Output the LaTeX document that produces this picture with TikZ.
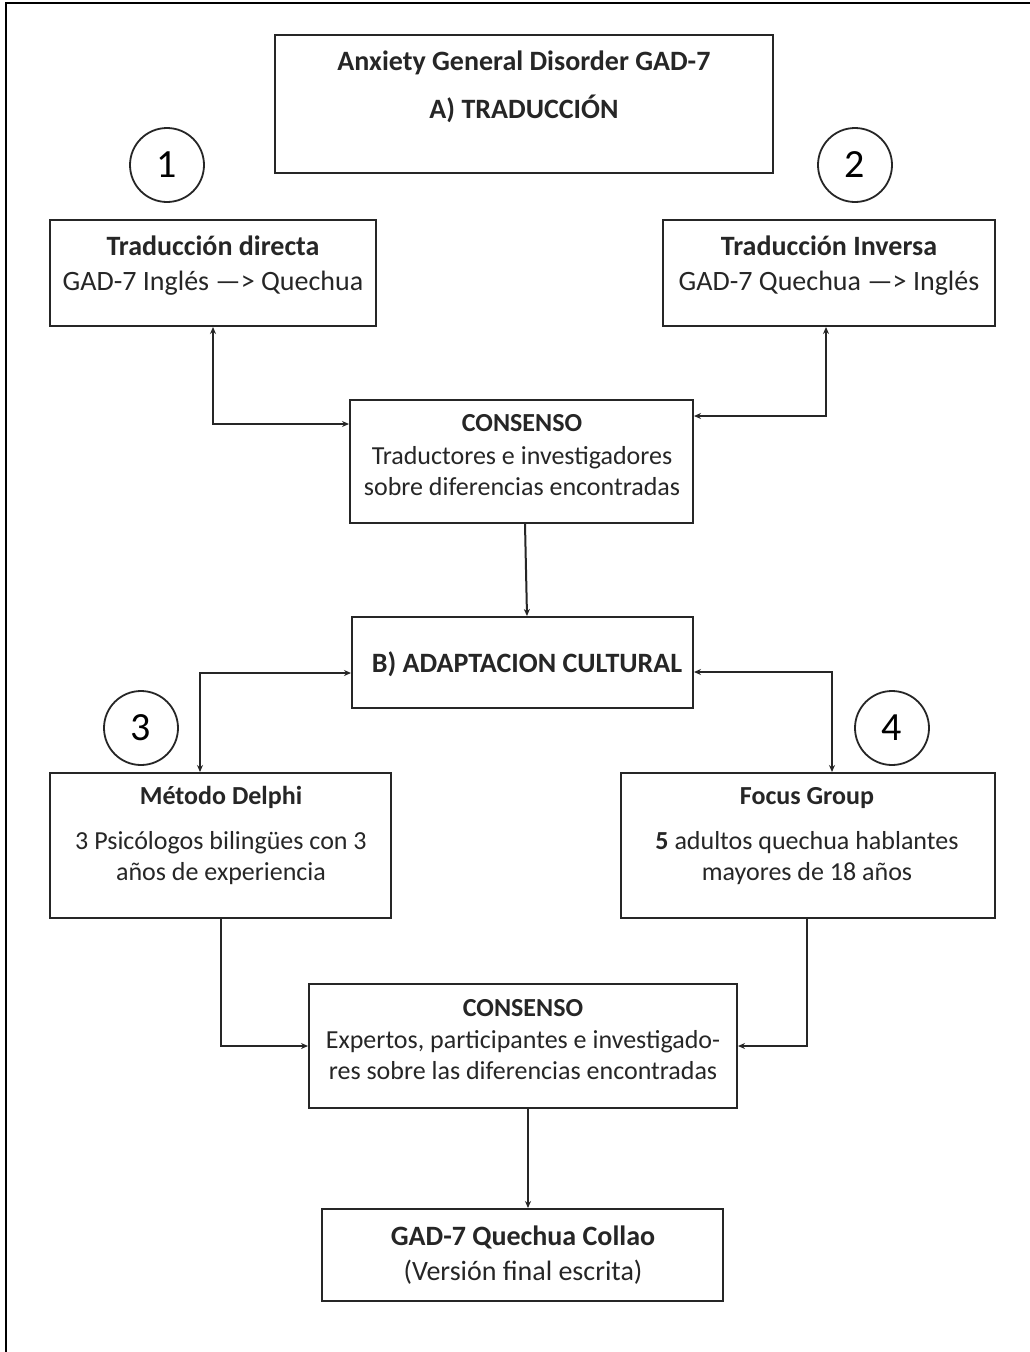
\documentclass[tikz,border=0pt]{standalone}
\usepackage{fontspec}
\setmainfont{Carlito}
\usetikzlibrary{arrows.meta}
\tikzset{
  box/.style={draw=black!85, line width=2pt, rectangle, inner sep=0pt},
  txt/.style={align=center, inner sep=0pt, font=\fontsize{28}{32}\selectfont, text=black!85},
  stxt/.style={txt, font=\fontsize{26}{30}\selectfont},
  num/.style={draw=black!85, line width=1.8pt, circle, minimum size=74pt, inner sep=0pt, font=\fontsize{40}{40}\selectfont},
  conn/.style={draw=black!85, line width=2pt, -{Stealth[length=7pt,width=6pt]}},
  conn2/.style={draw=black!85, line width=2pt, {Stealth[length=7pt,width=6pt]}-{Stealth[length=7pt,width=6pt]}},
}
\newcommand{\mkbox}[5]{\node[box, minimum width={#4-#2}, minimum height={#5-#3}] (#1) at ({(#2+#4)/2},{(#3+#5)/2}) {};}
\begin{document}
\begin{tikzpicture}[x=1pt,y=-1pt]
\useasboundingbox (0,0) rectangle (1030,1352);
\fill[white] (0,0) rectangle (1030,1352);
\draw[line width=2.4pt] (6,1352) -- (6,3) -- (1030,3);
% boxes
\mkbox{top}{275}{35}{773}{173}
\mkbox{td}{50}{220}{376}{326}
\mkbox{ti}{663}{220}{995}{326}
\mkbox{c1}{350}{400}{693}{523}
\mkbox{b}{352}{617}{693}{708}
\mkbox{de}{50}{773}{391}{918}
\mkbox{fg}{621}{773}{995}{918}
\mkbox{c2}{309}{984}{737}{1108}
\mkbox{fin}{322}{1209}{723}{1301}
% circles
\node[num] (n1) at (167,165) {1};
\node[num] (n2) at (855,165) {2};
\node[num] (n3) at (141,728) {3};
\node[num] (n4) at (892,728) {4};
% texts
\node[txt, anchor=base] (t1) at (524,70) {\textbf{Anxiety General Disorder GAD-7}};
\node[txt, anchor=base] (t2) at (524,118) {\textbf{A) TRADUCCIÓN}};
\node[txt, anchor=base] (tda) at (213,255) {\textbf{Traducción directa}};
\node[txt, anchor=base] (tdb) at (213,290) {GAD-7 Inglés —> Quechua};
\node[txt, anchor=base] (tia) at (829,255) {\textbf{Traducción Inversa}};
\node[txt, anchor=base] (tib) at (829,290) {GAD-7 Quechua —> Inglés};
\node[stxt, anchor=base] (c1a) at (522,431) {\textbf{CONSENSO}};
\node[stxt, anchor=base] (c1b) at (522,464) {Traductores e investigadores};
\node[stxt, anchor=base] (c1c) at (522,495) {sobre diferencias encontradas};
\node[txt, anchor=base] (ba) at (527,672) {\textbf{B) ADAPTACION CULTURAL}};
\node[stxt, anchor=base] (dea) at (221,804) {\textbf{Método Delphi}};
\node[stxt, anchor=base] (deb) at (221,849) {3 Psicólogos bilingües con 3};
\node[stxt, anchor=base] (dec) at (221,880) {años de experiencia};
\node[stxt, anchor=base] (fga) at (807,804) {\textbf{Focus Group}};
\node[stxt, anchor=base] (fgb) at (807,849) {\textbf{5} adultos quechua hablantes};
\node[stxt, anchor=base] (fgc) at (807,880) {mayores de 18 años};
\node[stxt, anchor=base] (c2a) at (523,1016) {\textbf{CONSENSO}};
\node[stxt, anchor=base] (c2b) at (523,1048) {Expertos, participantes e investigado-};
\node[stxt, anchor=base] (c2c) at (523,1079) {res sobre las diferencias encontradas};
\node[txt, anchor=base] (fa) at (523,1245) {\textbf{GAD-7 Quechua Collao}};
\node[txt, anchor=base] (fb) at (523,1280) {(Versión final escrita)};
% connectors
\draw[conn2] (c1.west |- 0,424) -| (td.south -| 213,0);
\draw[conn2] (c1.east |- 0,416) -| (ti.south -| 826,0);
\draw[conn] (c1.south -| 525,0) -- (b.north -| 527,0);
\draw[conn2] (b.west |- 0,673) -| (de.north -| 200,0);
\draw[conn2] (b.east |- 0,672) -| (fg.north -| 832,0);
\draw[conn] (de.south -| 221,0) |- (c2.west |- 0,1046);
\draw[conn] (fg.south -| 807,0) |- (c2.east |- 0,1046);
\draw[conn] (c2.south -| 528,0) -- (fin.north -| 528,0);
\end{tikzpicture}
\end{document}
